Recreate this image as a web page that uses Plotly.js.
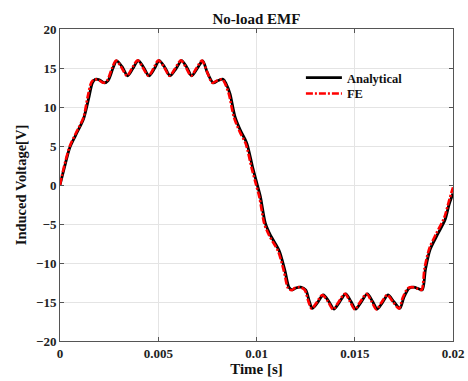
<!DOCTYPE html>
<html>
<head>
<meta charset="utf-8">
<script src="https://cdn.plot.ly/plotly-3.0.1.min.js"></script>
<style>html,body{margin:0;padding:0;background:#fff}#chart{width:468px;height:381px}</style>
</head>
<body>
<div id="chart"></div>
<script>
// Analytical EMF (time in s, voltage in V)
const tAnalytical = [0,0.0002,0.0005,0.0008,0.0012,0.00145,0.00165,0.0018,0.002,0.00225,0.00245,0.0027,0.00288,0.00315,0.00344,0.0037,0.00398,0.00425,0.00453,0.0048,0.00505,0.00533,0.0056,0.0059,0.00619,0.00645,0.0067,0.007,0.00726,0.0075,0.0078,0.00805,0.0083,0.00845,0.00865,0.0089,0.0092,0.0095,0.0098,0.01,0.0102,0.01045,0.0107,0.01115,0.01145,0.01165,0.01182,0.012,0.01225,0.0125,0.0127,0.01284,0.0131,0.0134,0.0137,0.01394,0.0142,0.01454,0.0148,0.01505,0.0153,0.01564,0.0159,0.01615,0.0164,0.01669,0.017,0.0173,0.0175,0.01776,0.018,0.01825,0.01844,0.0186,0.01883,0.0192,0.01959,0.0198,0.02];
const vAnalytical = [0,2.0,4.8,6.4,8.5,11.0,13.1,13.55,13.5,13.1,13.4,15.0,15.9,15.2,14.0,14.9,15.95,15.1,14.0,14.9,15.95,15.1,14.0,14.9,15.95,15.1,14.0,15.0,15.9,14.4,13.1,13.4,13.55,13.0,11.7,8.8,6.9,5.4,2.3,0.4,-1.5,-4.9,-6.4,-8.4,-11.0,-13.1,-13.45,-13.2,-13.1,-13.45,-15.0,-15.8,-15.1,-14.1,-15.0,-15.9,-15.1,-13.95,-14.9,-15.9,-15.1,-13.95,-14.9,-15.9,-15.1,-14.1,-15.0,-15.8,-14.4,-13.25,-13.1,-13.3,-13.45,-10.8,-8.3,-6.4,-4.5,-2.5,-1.1];

// FE EMF
const tFE = [0,0.0002,0.0005,0.0008,0.0012,0.0014,0.0016,0.00175,0.002,0.0022,0.0024,0.00265,0.00285,0.0031,0.0034,0.00365,0.00395,0.0042,0.0045,0.00475,0.005,0.0053,0.00557,0.00585,0.00615,0.0064,0.00667,0.00695,0.00722,0.0075,0.00775,0.008,0.00825,0.0084,0.0086,0.00885,0.00915,0.00945,0.00975,0.00995,0.01015,0.0104,0.01065,0.0111,0.0114,0.0116,0.01178,0.01195,0.0122,0.01245,0.01265,0.0128,0.01305,0.01335,0.01365,0.0139,0.01415,0.0145,0.01475,0.015,0.01525,0.0156,0.01585,0.0161,0.01635,0.01665,0.01695,0.01725,0.01745,0.0177,0.01795,0.0182,0.0184,0.01855,0.0188,0.01915,0.01955,0.0198,0.02];
const vFE = [0,2.3,5.0,6.6,8.7,11.2,13.2,13.55,13.4,13.1,13.4,15.0,15.95,15.2,14.0,14.9,16.0,15.1,14.0,14.9,16.0,15.1,14.0,14.9,16.0,15.1,14.0,15.0,15.95,14.4,13.1,13.4,13.55,13.0,11.6,8.7,6.8,5.3,2.2,0.3,-1.6,-5.0,-6.5,-8.5,-11.1,-13.2,-13.5,-13.2,-13.1,-13.45,-15.0,-15.85,-15.1,-14.1,-15.0,-15.95,-15.1,-13.95,-14.9,-15.95,-15.1,-13.95,-14.9,-15.95,-15.1,-14.1,-15.0,-15.85,-14.4,-13.25,-13.1,-13.3,-13.45,-10.7,-8.1,-6.2,-4.2,-2.0,-0.3];

const xTicks = [0,0.005,0.01,0.015,0.02];
const xTickText = ['0','0.005','0.01','0.015','0.02'];
const yTicks = [-20,-15,-10,-5,0,5,10,15,20];

const serif = 'Liberation Serif, Times New Roman, serif';

const traces = [
  {x:tAnalytical, y:vAnalytical, name:'Analytical', mode:'lines', legend:'legend', line:{color:'#000000', width:2.8, shape:'spline', smoothing:0.8}},
  {x:tFE, y:vFE, name:'FE', mode:'lines', legend:'legend2', line:{color:'#ff0000', width:2.6, dash:'7px,2px,2px,2px', shape:'spline', smoothing:0.8}}
];

const axisCommon = {
  showline:true, mirror:'ticks', linecolor:'#555555', linewidth:1,
  ticks:'inside', ticklen:4, tickcolor:'#555555',
  showgrid:true, gridcolor:'#e4e4e4', gridwidth:1, zeroline:false,
  tickfont:{family:serif, size:13, color:'#222', weight:'bold'}
};

const legendCommon = {x:0.613, xanchor:'left', yanchor:'top', bgcolor:'rgba(0,0,0,0)', borderwidth:0, itemwidth:36,
  font:{family:serif, size:12.5, color:'#111', weight:'bold'}};

const layout = {
  width:468, height:381,
  margin:{l:60, r:15, t:29, b:40},
  paper_bgcolor:'#ffffff', plot_bgcolor:'#ffffff',
  title:{text:'<b>No-load EMF</b>', font:{family:serif, size:15, color:'#111'}, x:0.548, xanchor:'center', y:0.952, yanchor:'middle'},
  xaxis:Object.assign({}, axisCommon, {
    range:[0,0.02], tickvals:xTicks, ticktext:xTickText,
    title:{text:'<b>Time [s]</b>', font:{family:serif, size:15, color:'#111'}, standoff:3}
  }),
  yaxis:Object.assign({}, axisCommon, {
    range:[-20,20], tickvals:yTicks,
    title:{text:'<b>Induced Voltage[V]</b>', font:{family:serif, size:14.5, color:'#111'}, standoff:5}
  }),
  showlegend:true,
  legend:Object.assign({}, legendCommon, {y:0.891}),
  legend2:Object.assign({}, legendCommon, {y:0.84})
};

Plotly.newPlot('chart', traces, layout, {displayModeBar:false, staticPlot:true});
</script>
</body>
</html>
